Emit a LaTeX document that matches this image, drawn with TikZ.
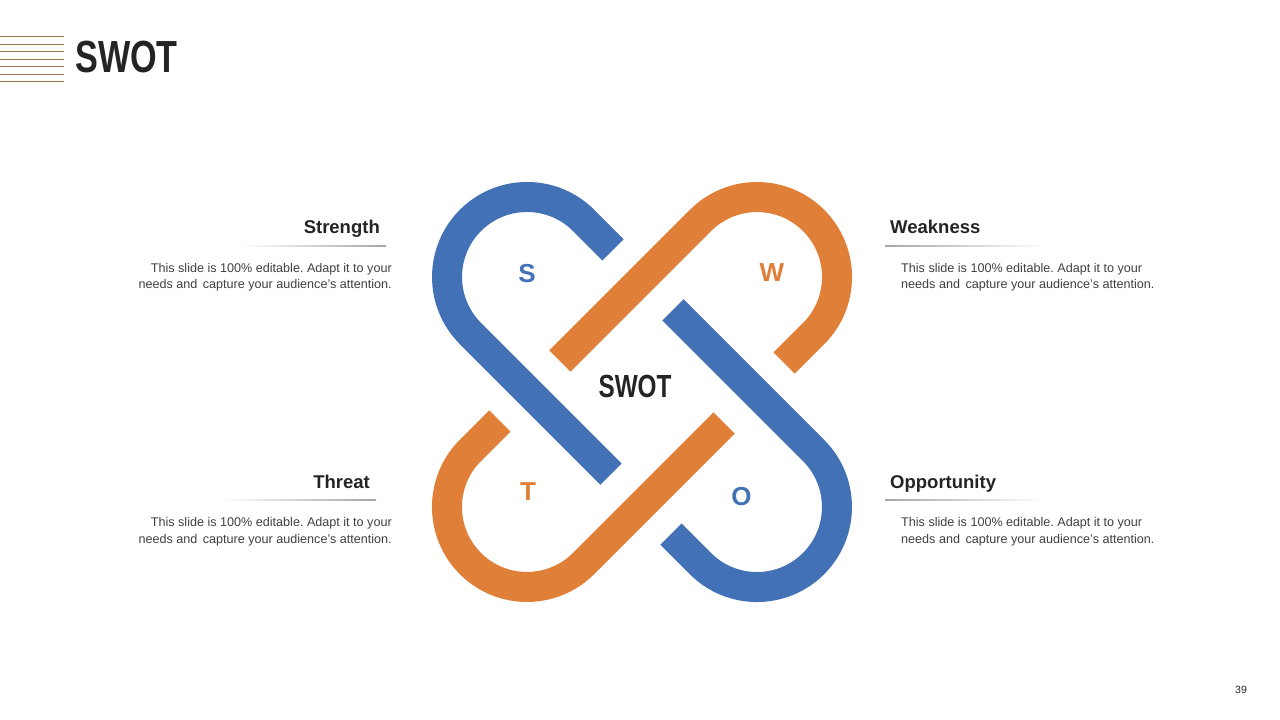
\documentclass[tikz,border=0pt]{standalone}
\usepackage{fontspec}
\setmainfont{Liberation Sans}
\newfontfamily\condfont{Liberation Sans}[FakeStretch=0.76]
\frenchspacing
\definecolor{sblue}{RGB}{66,113,182}
\definecolor{sorange}{RGB}{224,127,56}
\definecolor{dark}{RGB}{36,36,36}
\definecolor{bodygray}{RGB}{64,64,64}
\definecolor{logoline}{RGB}{150,115,72}
\begin{document}
\begin{tikzpicture}[x=1pt,y=-1pt,
  ring/.style={line width=30pt, line cap=butt, line join=round},
  heading/.style={font=\bfseries\fontsize{18.5}{22}\selectfont, text=dark, inner sep=0pt},
  body/.style={font=\fontsize{12.6}{16.2}\selectfont, text=bodygray, inner sep=0pt},
  letter/.style={font=\bfseries\fontsize{26}{30}\selectfont, inner sep=0pt},
  logo/.style={draw=logoline, line width=1pt}
]
\fill[white] (0,0) rectangle (1280,720);
\useasboundingbox (0,0) rectangle (1280,720);

% logo lines
\foreach \yy in {36.5,44,51.5,59,66.5,74,81.5}{
  \draw[logo] (0,\yy) -- (64,\yy);
}
\node[anchor=west, inner sep=0pt, text=dark, font=\condfont\bfseries\fontsize{45}{50}\selectfont] (title) at (75,57) {SWOT};

% rings
\begin{scope}[shift={(642,392)}]
  \draw[sblue, ring] (-29,-142.2) -- (-58.4,-171.6) arc[start angle=-45, end angle=-225, radius=80] -- (-31,82.2);
\end{scope}
\begin{scope}[shift={(642,392)}, rotate=-90]
  \draw[sorange, ring] (-29,-142.2) -- (-58.4,-171.6) arc[start angle=-45, end angle=-225, radius=80] -- (-31,82.2);
\end{scope}
\begin{scope}[shift={(642,392)}, rotate=-180]
  \draw[sblue, ring] (-29,-142.2) -- (-58.4,-171.6) arc[start angle=-45, end angle=-225, radius=80] -- (-31,82.2);
\end{scope}
\begin{scope}[shift={(642,392)}, rotate=-270]
  \draw[sorange, ring] (-29,-142.2) -- (-58.4,-171.6) arc[start angle=-45, end angle=-225, radius=80] -- (-31,82.2);
\end{scope}

% letters
\node[letter, text=sblue] (ls) at (527,274) {S};
\node[letter, text=sorange] (lw) at (772,272.5) {W};
\node[letter, text=sorange] (lt) at (528,491.5) {T};
\node[letter, text=sblue] (lo) at (741.5,496.5) {O};
\node[inner sep=0pt, text=dark, font=\condfont\bfseries\fontsize{32}{36}\selectfont] (center) at (635,386) {SWOT};

% underlines
\shade[left color=white, right color=black!35] (240,245.4) rectangle (386,246.4);
\shade[left color=black!35, right color=white] (885,245.4) rectangle (1045,246.4);
\shade[left color=white, right color=black!35] (220,499.6) rectangle (376,500.6);
\shade[left color=black!35, right color=white] (885,499.6) rectangle (1045,500.6);

% headings
\node[heading, anchor=base east] (hs) at (380,233.3) {Strength};
\node[heading, anchor=base west] (hw) at (890,233.3) {Weakness};
\node[heading, anchor=base east] (ht) at (370,488.3) {Threat};
\node[heading, anchor=base west] (ho) at (890,488.3) {Opportunity};

% body texts
\node[body, anchor=north east, align=right] (bs) at (392,263.2) {This slide is 100\% editable. Adapt it to your\\needs and\hspace{2pt} capture your audience's attention.};
\node[body, anchor=north west, align=left] (bw) at (901,263.2) {This slide is 100\% editable. Adapt it to your\\needs and\hspace{2pt} capture your audience's attention.};
\node[body, anchor=north east, align=right] (bt) at (392,517.6) {This slide is 100\% editable. Adapt it to your\\needs and\hspace{2pt} capture your audience's attention.};
\node[body, anchor=north west, align=left] (bo) at (901,517.6) {This slide is 100\% editable. Adapt it to your\\needs and\hspace{2pt} capture your audience's attention.};

% page number
\node[inner sep=0pt, text=dark, font=\fontsize{10.5}{12}\selectfont] (pg) at (1241,690) {39};
\end{tikzpicture}
\end{document}
